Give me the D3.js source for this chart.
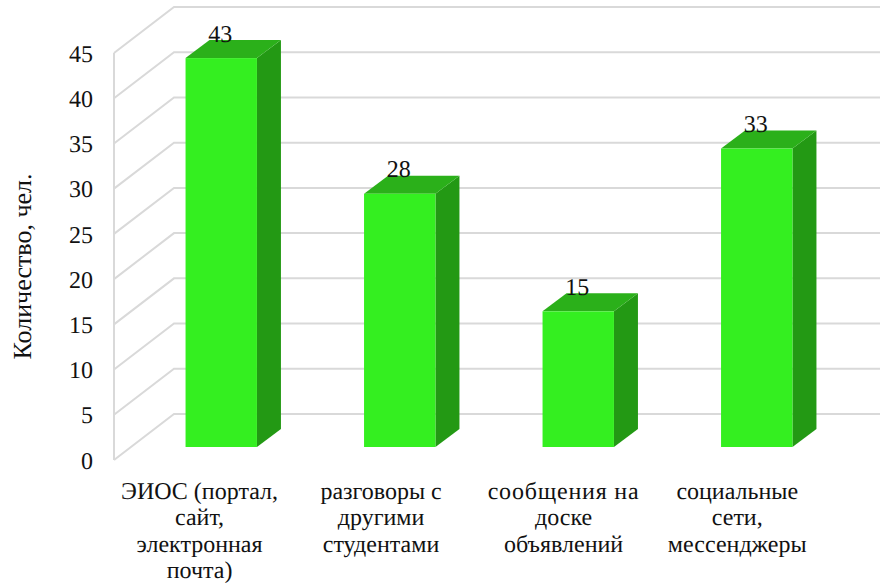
<!DOCTYPE html>
<html><head><meta charset="utf-8">
<script src="https://cdn.jsdelivr.net/npm/d3@7/dist/d3.min.js"></script>
<style>html,body{margin:0;padding:0;background:#fff}svg{display:block}text{font-family:"Liberation Serif","Times New Roman",serif;fill:#111;text-rendering:geometricPrecision}</style>
</head><body><svg id="c" width="880" height="585"></svg>
<script>
const categories = [
  ["ЭИОС (портал,","сайт,","электронная","почта)"],
  ["разговоры с","другими","студентами"],
  ["сообщения на","доске","объявлений"],
  ["социальные","сети,","мессенджеры"]
];
const values = [43, 28, 15, 33];
const yTicks = [0,5,10,15,20,25,30,35,40,45];
const yTitle = "Количество, чел.";

const svg = d3.select("#c");
const wallX = 114, backX = 174, rightX = 880;
const y = d3.scaleLinear().domain([0,45]).range([460,53]);
const dy = -46;
const x = d3.scaleBand().domain(d3.range(values.length)).range([132,846]).paddingInner(0.6).paddingOuter(0.3);
const labelShift = [-21.7,-18.7,-14.7,-19.5];
const barDX = 24, barDY = -18, barOffsetY = -13;
const grid = "#d9d9d9";

const g = svg.append("g").attr("fill","none").attr("stroke",grid).attr("stroke-width",2);
yTicks.forEach(t=>{
  g.append("path").attr("d",`M${wallX},${y(t)}L${backX},${y(t)+dy}L${rightX},${y(t)+dy}`);
});
g.append("line").attr("x1",wallX).attr("x2",wallX).attr("y1",y(0)).attr("y2",y(45));

svg.append("g").selectAll("text").data(yTicks).join("text")
  .attr("x",93).attr("y",d=>y(d)).attr("dy","0.36em").attr("text-anchor","end")
  .attr("font-size",24).text(d=>d);

svg.append("text").attr("transform","translate(31,266.5) rotate(-90)")
  .attr("text-anchor","middle").attr("font-size",26).text(yTitle);

const bars = svg.append("g").selectAll("g").data(values).join("g");
const by = v => y(v) + barOffsetY;
bars.append("path").attr("fill","#239914").attr("d",(v,i)=>{
  const r = x(i)+x.bandwidth();
  return `M${r},${by(v)}L${r+barDX},${by(v)+barDY}L${r+barDX},${by(0)+barDY}L${r},${by(0)}Z`;
});
bars.append("path").attr("fill","#2bb01a").attr("d",(v,i)=>{
  const l = x(i), r = l+x.bandwidth();
  return `M${l},${by(v)}L${l+barDX},${by(v)+barDY}L${r+barDX},${by(v)+barDY}L${r},${by(v)}Z`;
});
bars.append("rect").attr("fill","#34ef20")
  .attr("x",(v,i)=>x(i)).attr("width",x.bandwidth())
  .attr("y",v=>by(v)).attr("height",v=>by(0)-by(v));
bars.append("text").attr("x",(v,i)=>x(i)+x.bandwidth()/2-1).attr("y",v=>by(v)-16.5)
  .attr("text-anchor","middle").attr("font-size",24).text(v=>v);

const labels = svg.append("g").selectAll("text").data(categories).join("text")
  .attr("text-anchor","middle").attr("font-size",24);
labels.each(function(lines,i){
  d3.select(this).selectAll("tspan").data(lines).join("tspan")
    .attr("x",x(i)+x.bandwidth()/2+labelShift[i]).attr("y",(d,j)=>499+j*26.4)
    .attr("letter-spacing",(d,j)=>(i===2&&j===0)?0.8:null).text(d=>d);
});
</script></body></html>
